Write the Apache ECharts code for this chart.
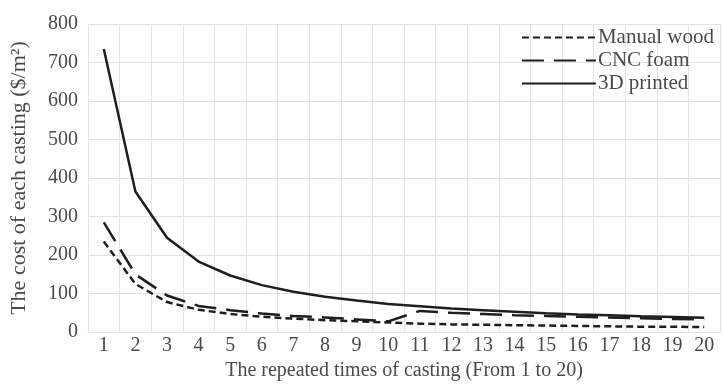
<!DOCTYPE html>
<html><head><meta charset="utf-8">
<script src="https://cdn.jsdelivr.net/npm/echarts@6/dist/echarts.min.js"></script>
<style>html,body{margin:0;padding:0;background:#fff}#c{width:723px;height:386px}</style>
</head><body><div id="c"></div>
<script>
const categories = ['1','2','3','4','5','6','7','8','9','10','11','12','13','14','15','16','17','18','19','20'];
const manualWood = [235, 125, 78, 58, 47, 40, 35, 31, 28, 25, 22, 20, 19, 18, 17, 16, 15, 14, 14, 13];
const cncFoam = [285, 150, 95, 68, 57, 48, 42, 38, 33, 28, 55, 50, 47, 44, 42, 40, 38, 36, 34, 33];
const printed3D = [735, 365, 245, 183, 147, 122, 105, 92, 82, 73, 67, 61, 57, 53, 49, 46, 44, 41, 39, 37];
const yTicks = {min: 0, max: 800, interval: 100};

const font = 'Liberation Serif';
const txt = '#4a4a4a';
const chart = echarts.init(document.getElementById('c'));
chart.setOption({
  animation: false,
  textStyle: {fontFamily: font},
  grid: {left: 83, right: 3, top: 24, bottom: 46},
  legend: {
    orient: 'vertical', right: 4, top: 22, itemWidth: 74, itemHeight: 12, itemGap: 2,
    itemStyle: {color: 'transparent', borderWidth: 0, opacity: 0},
    textStyle: {fontFamily: font, fontSize: 21, color: txt, padding: [0,0,0,-3]},
    data: ['Manual wood', 'CNC foam', '3D printed']
  },
  xAxis: {
    type: 'category', data: categories, boundaryGap: true,
    name: 'The repeated times of casting (From 1 to 20)', nameLocation: 'middle', nameGap: 26,
    nameTextStyle: {fontFamily: font, fontSize: 20, color: txt},
    axisLine: {show: true, lineStyle: {color: '#e3e3e3'}},
    axisTick: {show: false},
    axisLabel: {fontFamily: font, fontSize: 20, color: txt, margin: 4},
    splitLine: {show: true, interval: 0, lineStyle: {color: '#e3e3e3', width: 1}}
  },
  yAxis: {
    type: 'value', min: yTicks.min, max: yTicks.max, interval: yTicks.interval,
    name: 'The cost of each casting ($/m²)', nameLocation: 'middle', nameGap: 58,
    nameTextStyle: {fontFamily: font, fontSize: 22, color: txt},
    axisLine: {show: false}, axisTick: {show: false},
    axisLabel: {fontFamily: font, fontSize: 20, color: txt, margin: 10},
    splitLine: {lineStyle: {color: '#e3e3e3', width: 1}}
  },
  series: [
    {name: 'Manual wood', type: 'line', data: manualWood, symbol: 'none',
     lineStyle: {color: '#1e1e1e', width: 2.5, type: [7, 4]}, itemStyle: {color: '#1e1e1e'}},
    {name: 'CNC foam', type: 'line', data: cncFoam, symbol: 'none',
     lineStyle: {color: '#1e1e1e', width: 2.5, type: [22, 10]}, itemStyle: {color: '#1e1e1e'}},
    {name: '3D printed', type: 'line', data: printed3D, symbol: 'none',
     lineStyle: {color: '#1e1e1e', width: 2.5}, itemStyle: {color: '#1e1e1e'}}
  ]
});
</script></body></html>
